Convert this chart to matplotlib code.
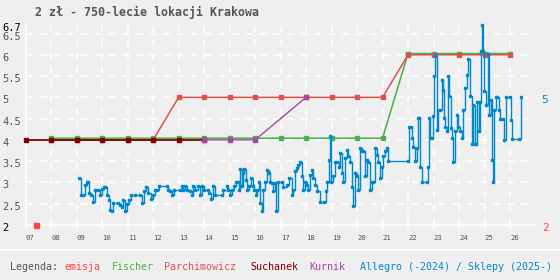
import matplotlib
matplotlib.use("Agg")
import matplotlib.pyplot as plt
import matplotlib.transforms as mtransforms

# ---------------- data ----------------
title = "2 zł - 750-lecie lokacji Krakowa"

emisja_year = [2007.39]
emisja_val = [2.0]

fischer_years = list(range(2008, 2027))
fischer_vals = [4.04] * 14 + [6.03] * 5

parch_years = list(range(2008, 2027))
parch_vals = [4.0] * 5 + [5.0] * 9 + [6.0] * 5

suchanek_years = list(range(2007, 2015))
suchanek_vals = [4.0] * 8

kurnik_years = [2014, 2015, 2016, 2018]
kurnik_vals = [4.0, 4.0, 4.0, 5.0]

allegro_years = [
    2009.09, 2009.17, 2009.26, 2009.33, 2009.39, 2009.43, 2009.48, 2009.55, 2009.65, 2009.72,
    2009.85, 2009.92, 2010.01, 2010.07, 2010.12, 2010.20, 2010.26, 2010.31, 2010.37, 2010.44,
    2010.64, 2010.70, 2010.77, 2010.83, 2010.91, 2010.99, 2011.07, 2011.13, 2011.29, 2011.49,
    2011.56, 2011.64, 2011.72, 2011.81, 2011.90, 2012.01, 2012.07, 2012.16, 2012.23, 2012.53,
    2012.57, 2012.66, 2012.75, 2012.83, 2013.05, 2013.12, 2013.18, 2013.25, 2013.32, 2013.45,
    2013.51, 2013.58, 2013.64, 2013.75, 2013.84, 2013.93, 2014.01, 2014.17, 2014.21, 2014.26,
    2014.36, 2014.43, 2014.69, 2014.75, 2014.88, 2014.95, 2015.03, 2015.08, 2015.16, 2015.24,
    2015.32, 2015.37, 2015.42, 2015.47, 2015.53, 2015.58, 2015.63, 2015.70, 2015.76, 2015.84,
    2015.91, 2015.97, 2016.02, 2016.09, 2016.17, 2016.21, 2016.26, 2016.32, 2016.39, 2016.48,
    2016.55, 2016.58, 2016.65, 2016.71, 2016.78, 2016.82, 2016.91, 2017.04, 2017.11, 2017.24,
    2017.34, 2017.43, 2017.50, 2017.57, 2017.63, 2017.70, 2017.76, 2017.83, 2017.89, 2017.96,
    2018.02, 2018.09, 2018.15, 2018.22, 2018.29, 2018.35, 2018.42, 2018.55, 2018.70, 2018.77,
    2018.83, 2018.89, 2018.94, 2018.99, 2019.07, 2019.14, 2019.23, 2019.28, 2019.33, 2019.40,
    2019.46, 2019.53, 2019.59, 2019.66, 2019.72, 2019.79, 2019.85, 2019.92, 2019.99, 2020.05,
    2020.12, 2020.18, 2020.25, 2020.31, 2020.38, 2020.44, 2020.51, 2020.57, 2020.64, 2020.70,
    2020.77, 2020.84, 2020.90, 2020.97, 2021.03, 2021.10, 2021.16, 2021.23, 2022.01, 2022.05,
    2022.10, 2022.14, 2022.21, 2022.27, 2022.34, 2022.40, 2022.44, 2022.47, 2022.53, 2022.73,
    2022.80, 2022.82, 2022.86, 2022.93, 2022.99, 2023.02, 2023.07, 2023.12, 2023.19, 2023.26,
    2023.32, 2023.36, 2023.40, 2023.45, 2023.52, 2023.58, 2023.62, 2023.67, 2023.71, 2023.78,
    2023.84, 2023.91, 2023.97, 2024.04, 2024.10, 2024.17, 2024.23, 2024.30, 2024.37, 2024.43,
    2024.50, 2024.56, 2024.63, 2024.68, 2024.72, 2024.80, 2024.83, 2024.86, 2024.92, 2024.95,
    2024.99, 2025.06, 2025.12, 2025.19, 2025.24, 2025.28, 2025.35, 2025.39, 2025.45, 2025.50,
    2025.56, 2025.61, 2025.74, 2025.78, 2025.84, 2026.00, 2026.04, 2026.07, 2026.37, 2026.43,
]
allegro_vals = [
    3.10, 2.71, 2.71, 2.94, 3.01, 3.01, 2.75, 2.71, 2.53, 2.83,
    2.83, 2.71, 2.84, 2.90, 2.90, 2.71, 2.59, 2.36, 2.32, 2.51,
    2.51, 2.47, 2.42, 2.59, 2.32, 2.50, 2.59, 2.71, 2.71, 2.71,
    2.51, 2.79, 2.90, 2.75, 2.61, 2.71, 2.83, 2.83, 2.92, 2.92,
    2.82, 2.79, 2.71, 2.82, 2.82, 2.92, 2.82, 2.92, 2.82, 2.79,
    2.71, 2.92, 2.82, 2.92, 2.71, 2.92, 2.82, 2.82, 2.75, 2.60,
    2.92, 2.71, 2.71, 2.82, 2.92, 2.82, 2.71, 2.82, 2.92, 3.00,
    3.00, 2.82, 3.31, 2.92, 3.22, 3.31, 3.06, 2.82, 2.92, 3.10,
    2.92, 2.82, 2.71, 2.82, 3.00, 2.51, 2.32, 2.83, 3.02, 3.30,
    3.22, 3.02, 2.98, 2.79, 2.98, 2.32, 3.02, 3.02, 2.90, 2.94,
    3.10, 2.71, 2.83, 3.26, 3.33, 3.41, 3.49, 3.14, 2.83, 3.02,
    2.94, 2.83, 3.18, 3.30, 3.10, 2.94, 2.79, 2.55, 2.53, 2.79,
    3.02, 3.53, 4.08, 3.02, 3.14, 3.49, 3.49, 3.37, 3.69, 3.22,
    3.02, 3.57, 3.77, 3.61, 3.49, 2.90, 2.45, 3.22, 3.14, 2.83,
    3.80, 3.73, 3.73, 3.14, 3.53, 3.49, 2.83, 3.02, 3.02, 3.80,
    3.65, 3.49, 3.10, 3.37, 3.61, 3.73, 3.80, 3.51, 3.51, 4.31,
    4.31, 4.04, 3.84, 3.51, 3.80, 4.51, 4.51, 3.37, 3.02, 3.02,
    3.37, 4.51, 4.04, 4.04, 4.55, 5.49, 6.00, 4.24, 4.70, 4.71,
    5.41, 5.18, 4.51, 4.31, 4.20, 5.49, 5.02, 4.27, 4.04, 3.49,
    4.20, 4.59, 4.31, 4.20, 4.04, 4.71, 5.21, 5.53, 5.90, 5.02,
    3.91, 4.82, 3.91, 3.91, 4.90, 4.20, 4.90, 6.08, 6.70, 6.08,
    5.14, 4.82, 6.02, 4.59, 4.94, 3.53, 3.00, 4.71, 5.00, 5.00,
    4.71, 4.49, 4.49, 4.00, 5.00, 5.00, 4.47, 4.02, 4.02, 5.00,
]

year_ticks = list(range(2007, 2027))
year_labels = ["%02d" % (y % 100) for y in year_ticks]
y_grid = [2.5, 3.0, 3.5, 4.0, 4.5, 5.0, 5.5, 6.0, 6.5]
y_min, y_max = 2.0, 6.7

# ---------------- style ----------------
BG = "#efefef"
C_EMISJA = "#ff4444"
C_FISCHER = "#4cae4c"
C_PARCH = "#d9534f"
C_SUCH = "#800000"
C_KURNIK = "#a347a3"
C_ALLEGRO = "#0088cc"
GRAY = "#555555"
MONO = "DejaVu Sans Mono"

fig = plt.figure(figsize=(5.6, 2.8), dpi=100, facecolor=BG)
ax = fig.add_axes([25.7 / 560, 55 / 280, 509.8 / 560, 200 / 280])
ax.set_facecolor(BG)
ax.set_xlim(2007, 2027)
ax.set_ylim(y_min, y_max)

# grid
for y in y_grid:
    ax.axhline(y, color="white", lw=1.1, dashes=(4.5, 4.5), zorder=1)
for x in year_ticks[1:]:
    ax.axvline(x, color="white", lw=1.1, dashes=(4.5, 4.5), zorder=1)

for s in ["top", "right"]:
    ax.spines[s].set_visible(False)
for s in ["left", "bottom"]:
    ax.spines[s].set_color("white")
    ax.spines[s].set_linewidth(1.2)

ax.set_xticks(year_ticks)
ax.set_xticklabels(year_labels, fontsize=5.2, family=MONO, color=GRAY, ha="left")
ax.tick_params(axis="x", length=3, width=1.1, color="white", pad=4)
ax.set_yticks([])

# y labels (left aligned at the figure edge)
ytr = mtransforms.offset_copy(ax.get_yaxis_transform(), fig=fig, x=0, y=-3, units="dots")
xl = (2 - 25.7) / 509.8
for y in y_grid:
    ax.text(xl, y, ("%g" % y), transform=ytr, ha="left", va="center",
            fontsize=7.5, family=MONO, color=GRAY, clip_on=False)
ax.text(xl, y_min, "%g" % y_min, transform=ytr, ha="left", va="center",
        fontsize=7.5, family=MONO, color="black", clip_on=False)
ax.text(xl, y_max, "%g" % y_max, transform=ytr, ha="left", va="center",
        fontsize=7.5, family=MONO, color="black", clip_on=False)

# series
ax.plot(fischer_years, fischer_vals, color=C_FISCHER, lw=1.1, marker="s", ms=3,
        clip_on=False, zorder=3)
ax.plot(parch_years, parch_vals, color=C_PARCH, lw=1.1, marker="s", ms=3,
        clip_on=False, zorder=3)
ax.plot(suchanek_years, suchanek_vals, color=C_SUCH, lw=1.3, marker="s", ms=3,
        clip_on=False, zorder=4)
ax.plot(kurnik_years, kurnik_vals, color=C_KURNIK, lw=1.0, marker="s", ms=3,
        clip_on=False, zorder=4)
ax.plot(allegro_years, allegro_vals, color=C_ALLEGRO, lw=1.0, marker="s", ms=1.9,
        drawstyle="steps-post", clip_on=False, zorder=5)
ax.plot(emisja_year, emisja_val, color=C_EMISJA, lw=0, marker="s", ms=3.6,
        clip_on=False, zorder=5)

# right-side last-value labels
xr = (541.7 - 25.7) / 509.8
ax.text(xr, allegro_vals[-1], "%g" % allegro_vals[-1], transform=ytr, ha="left",
        va="center", fontsize=8, family=MONO, color=C_ALLEGRO, clip_on=False)
ax.text(xr, emisja_val[-1], "%g" % emisja_val[-1], transform=ytr, ha="left",
        va="center", fontsize=8, family=MONO, color=C_EMISJA, clip_on=False)

# title
fig.text(35 / 560, 1 - 12 / 280, title, ha="left", va="center", fontsize=8.4,
         family=MONO, fontweight="bold", color=GRAY)

# separator line
fig.add_artist(plt.Line2D([0, 1], [1 - 250 / 280, 1 - 250 / 280], color="white",
                          lw=1.3, transform=fig.transFigure))

# legend
legend_items = [
    ("Legenda:", GRAY, 10),
    ("emisja", C_EMISJA, 64.5),
    ("Fischer", C_FISCHER, 111.7),
    ("Parchimowicz", C_PARCH, 164.3),
    ("Suchanek", C_SUCH, 250),
    ("Kurnik", C_KURNIK, 309.3),
    ("Allegro (-2024) / Sklepy (2025-)", C_ALLEGRO, 360),
]
for txt, col, px in legend_items:
    fig.text(px / 560, 1 - 267 / 280, txt, ha="left", va="center", fontsize=7.2,
             family=MONO, color=col)

fig.savefig("out.png", dpi=100, facecolor=BG)
